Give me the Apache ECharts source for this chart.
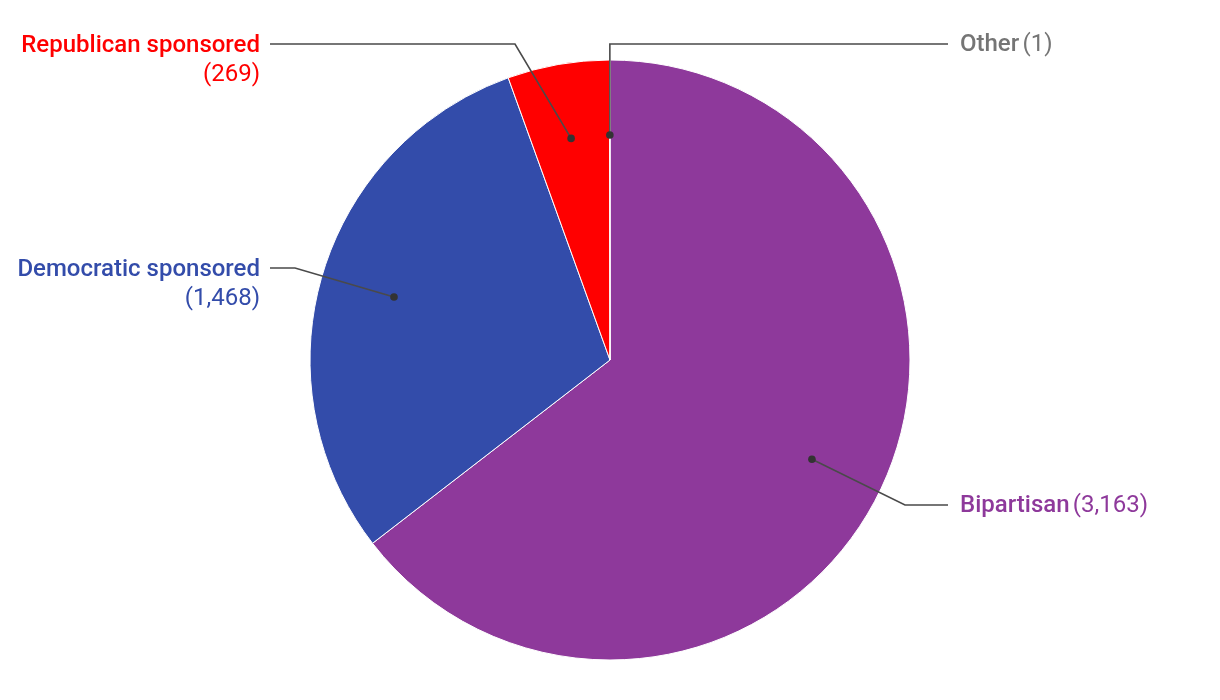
<!DOCTYPE html>
<html>
<head>
<meta charset="utf-8">
<script src="https://cdn.jsdelivr.net/npm/echarts@6/dist/echarts.min.js"></script>
<style>html,body{margin:0;padding:0;background:#fff}#c{width:1220px;height:700px}</style>
</head>
<body>
<div id="c"></div>
<script>
var categories = ['Bipartisan', 'Democratic sponsored', 'Republican sponsored', 'Other'];
var values = [3163, 1468, 269, 1];
var valueLabels = ['3,163', '1,468', '269', '1'];

var colors = ['#8e399b', '#334caa', '#ff0000', '#9e9e9e'];
var textColors = ['#8e399b', '#334caa', '#ff0000', '#757575'];
var CX = 610, CY = 360, R = 300;
var labelPos = [
  {x: 960, y: 506, side: 'right', elbow: [905, 505], end: [948, 505]},
  {x: 260, y: 269.5, side: 'left', elbow: [295, 268], end: [270, 268]},
  {x: 260, y: 45.5, side: 'left', elbow: [515, 44], end: [270, 44]},
  {x: 960, y: 45, side: 'right', elbow: null, end: [948, 44]}
];

var rich = {};
textColors.forEach(function (col, i) {
  var al = labelPos[i].side === 'left' ? 'right' : 'left';
  rich['n' + i] = {color: col, fontSize: 24, fontWeight: 500, fontFamily: 'Roboto', lineHeight: 29, align: al};
  rich['v' + i] = {color: col, fontSize: 24, fontWeight: 400, fontFamily: 'Roboto', lineHeight: 29, align: al};
});

var labelData = categories.map(function (c, i) {
  var lp = labelPos[i];
  return {
    name: c,
    value: values[i],
    label: {
      formatter: lp.side === 'left'
        ? '{n' + i + '|' + c + '}\n{v' + i + '|(' + valueLabels[i] + ')}'
        : '{n' + i + '|' + c + '} {v' + i + '|(' + valueLabels[i] + ')}',
      align: lp.side === 'left' ? 'right' : 'left'
    }
  };
});

var dots = [];
var chart = echarts.init(document.getElementById('c'), null, {renderer: 'canvas'});
chart.setOption({
  animation: false,
  backgroundColor: '#fff',
  series: [
    {
      type: 'pie',
      center: [CX, CY],
      radius: [0, R],
      startAngle: 90,
      clockwise: true,
      z: 1,
      itemStyle: {borderColor: '#fff', borderWidth: 1},
      label: {show: false},
      labelLine: {show: false},
      data: categories.map(function (c, i) { return {name: c, value: values[i], itemStyle: {color: colors[i]}}; })
    },
    {
      type: 'pie',
      center: [CX, CY],
      radius: [0, R],
      startAngle: 90,
      clockwise: true,
      z: 5,
      silent: true,
      avoidLabelOverlap: false,
      itemStyle: {color: 'rgba(0,0,0,0)', borderWidth: 0},
      label: {show: true, position: 'outside', rich: rich},
      labelLine: {show: true, length: 10, length2: 10, lineStyle: {color: '#4a4a4a', width: 1.6}},
      emphasis: {disabled: true},
      labelLayout: function (params) {
        var i = params.dataIndex;
        var lp = labelPos[i];
        var p0 = params.labelLinePoints[0];
        var dx = p0[0] - CX, dy = p0[1] - CY;
        var len = Math.sqrt(dx * dx + dy * dy) || 1;
        var dot = [CX + 0.75 * R * dx / len, CY + 0.75 * R * dy / len];
        dots[i] = dot;
        var elbow = lp.elbow ? lp.elbow : [dot[0], lp.end[1]];
        var isLeft = lp.side === 'left';
        return {
          x: lp.x,
          y: isLeft ? lp.y - 14.5 : lp.y,
          align: isLeft ? 'right' : 'left',
          verticalAlign: isLeft ? 'top' : 'middle',
          labelLinePoints: [dot, elbow, lp.end]
        };
      },
      data: labelData
    }
  ]
});
chart.setOption({
  graphic: dots.map(function (d) {
    return {type: 'circle', shape: {cx: d[0], cy: d[1], r: 3.8}, style: {fill: '#333'}, z: 100, silent: true};
  })
});
</script>
</body>
</html>
